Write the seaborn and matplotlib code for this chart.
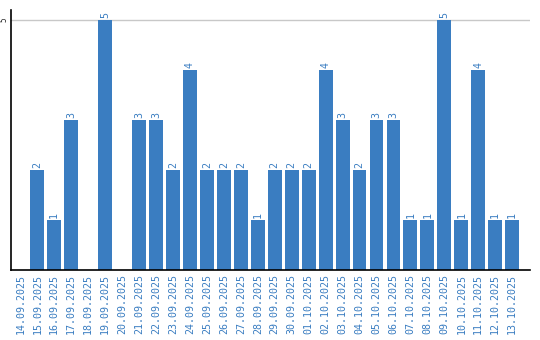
import matplotlib
matplotlib.use("Agg")
import matplotlib.pyplot as plt
import seaborn as sns
import pandas as pd

dates = ["14.09.2025","15.09.2025","16.09.2025","17.09.2025","18.09.2025","19.09.2025",
         "20.09.2025","21.09.2025","22.09.2025","23.09.2025","24.09.2025","25.09.2025",
         "26.09.2025","27.09.2025","28.09.2025","29.09.2025","30.09.2025","01.10.2025",
         "02.10.2025","03.10.2025","04.10.2025","05.10.2025","06.10.2025","07.10.2025",
         "08.10.2025","09.10.2025","10.10.2025","11.10.2025","12.10.2025","13.10.2025"]
values = [0,2,1,3,0,5,0,3,3,2,4,2,2,2,1,2,2,2,4,3,2,3,3,1,1,5,1,4,1,1]

df = pd.DataFrame({"date": dates, "value": values})
color = "#3a7dc1"

sns.set_style("white")
fig = plt.figure(figsize=(5.4, 3.4), dpi=100)
ax = fig.add_axes([11/540, 70/340, 519/540, 260/340])
sns.barplot(data=df, x="date", y="value", color=color, width=0.82, ax=ax,
            saturation=1, edgecolor="none")

ax.set_xlim(-0.55, 30.05)
ax.set_ylim(0, 5.2)
ax.set_yticks([5])
ax.set_yticklabels(["5"], rotation=90, va="center", fontsize=5.5, family="DejaVu Sans Mono")
ax.tick_params(axis="y", length=0, pad=1.5)
ax.axhline(5, color="#c8c8c8", lw=1, zorder=0)
ax.set_xticks(range(len(dates)))
ax.set_xticklabels(dates, rotation=90, fontsize=7.2, color=color, family="DejaVu Sans Mono")
ax.tick_params(axis="x", length=0, pad=3)
ax.set_xlabel("")
ax.set_ylabel("")
for s in ["top", "right"]:
    ax.spines[s].set_visible(False)
for s in ["left", "bottom"]:
    ax.spines[s].set_color("black")
    ax.spines[s].set_linewidth(1.2)

for i, v in enumerate(values):
    if v > 0:
        ax.text(i, v + 0.04, str(v), rotation=90, ha="center", va="bottom",
                fontsize=7.2, color=color, family="DejaVu Sans Mono")

fig.savefig("out.png", dpi=100)
